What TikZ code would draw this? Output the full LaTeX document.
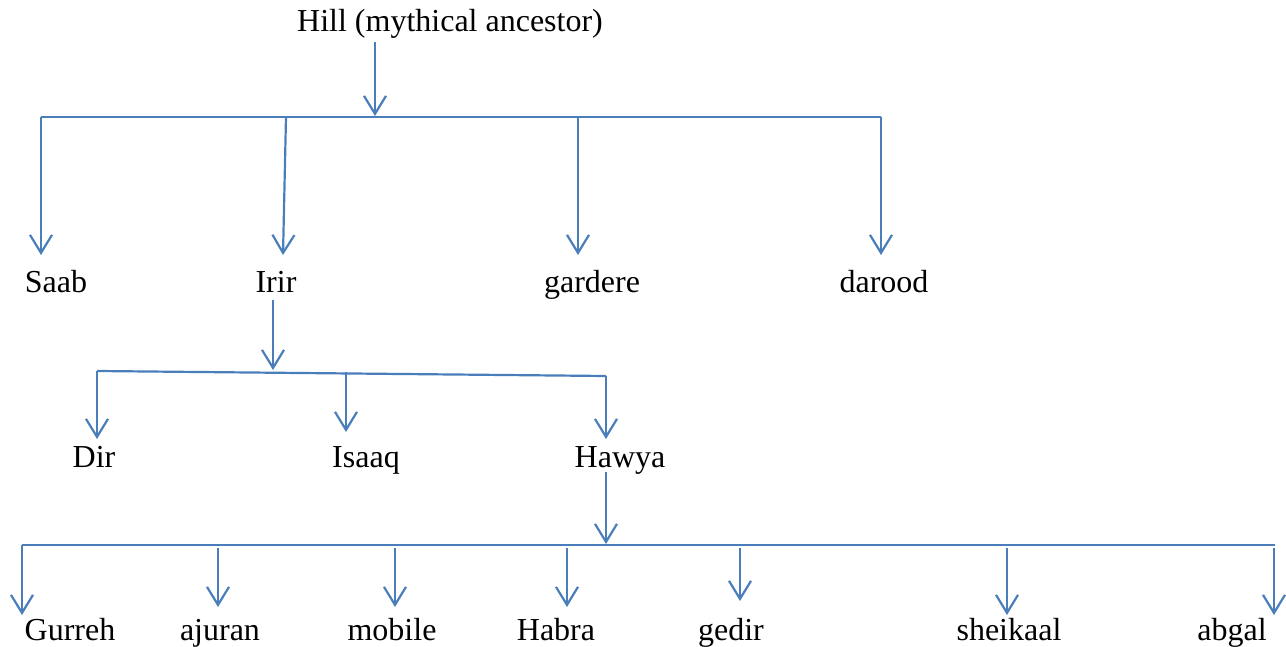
\documentclass[tikz,border=0pt]{standalone}
\usepackage{fontspec}
\setmainfont{Liberation Serif}
\usetikzlibrary{arrows.meta}
\definecolor{lineblue}{RGB}{74,126,187}
\tikzset{
  lbl/.style={anchor=base, inner sep=0pt, font=\fontsize{32}{38}\selectfont},
  conn/.style={draw=lineblue, line width=2.2pt},
  arr/.style={conn, -{Straight Barb[length=18pt,width=22pt,line width=2.2pt]}}
}
\begin{document}
\begin{tikzpicture}[x=1pt,y=-1pt]
\useasboundingbox (0,0) rectangle (1286,647);
% labels
\node[lbl] (hill) at (450,32) {Hill (mythical ancestor)};
\node[lbl] (saab) at (56,293) {Saab};
\node[lbl] (irir) at (276,293) {Irir};
\node[lbl] (gardere) at (592,293) {gardere};
\node[lbl] (darood) at (884,293) {darood};
\node[lbl] (dir) at (94,467) {Dir};
\node[lbl] (isaaq) at (366,467) {Isaaq};
\node[lbl] (hawya) at (620,467) {Hawya};
\node[lbl] (gurreh) at (70,640) {Gurreh};
\node[lbl] (ajuran) at (220,640) {ajuran};
\node[lbl] (mobile) at (392,640) {mobile};
\node[lbl] (habra) at (556,640) {Habra};
\node[lbl] (gedir) at (731,640) {gedir};
\node[lbl] (sheikaal) at (1009,640) {sheikaal};
\node[lbl] (abgal) at (1232,640) {abgal};
% level 1
\coordinate (h0) at (375,42);
\coordinate (h1) at (375,116);
\coordinate (b1L) at (41,117);
\coordinate (b1R) at (881,117);
\coordinate (b1irir) at (286,117);
\coordinate (b1gar) at (578,117);
\coordinate (tsaab) at (41,255);
\coordinate (tirir) at (283,255);
\coordinate (tgar) at (578,255);
\coordinate (tdar) at (881,255);
\draw[arr] (h0) -- (h1);
\draw[conn] (b1L) -- (b1R);
\draw[arr] (b1L) -- (tsaab);
\draw[arr] (b1irir) -- (tirir);
\draw[arr] (b1gar) -- (tgar);
\draw[arr] (b1R) -- (tdar);
% level 2
\coordinate (i0) at (273,300);
\coordinate (i1) at (273,370);
\coordinate (b2L) at (97,371);
\coordinate (b2R) at (606,376);
\coordinate (b2isa) at (346,372);
\coordinate (tdir) at (97,439);
\coordinate (tisa) at (346,432);
\coordinate (thaw) at (606,439);
\draw[arr] (i0) -- (i1);
\draw[conn] (b2L) -- (b2R);
\draw[arr] (b2L) -- (tdir);
\draw[arr] (b2isa) -- (tisa);
\draw[arr] (b2R) -- (thaw);
% level 3
\coordinate (w0) at (606,472);
\coordinate (w1) at (606,544);
\coordinate (b3L) at (22,545);
\coordinate (b3R) at (1275,545);
\draw[arr] (w0) -- (w1);
\draw[conn] (b3L) -- (b3R);
\draw[arr] (b3L) -- (22,615) coordinate (tgur);
\draw[arr] (218,548) coordinate (s1) -- (218,607) coordinate (taju);
\draw[arr] (395,548) coordinate (s2) -- (395,607) coordinate (tmob);
\draw[arr] (567,548) coordinate (s3) -- (567,607) coordinate (thab);
\draw[arr] (740,548) coordinate (s4) -- (740,601) coordinate (tged);
\draw[arr] (1007,548) coordinate (s5) -- (1007,615) coordinate (tshe);
\draw[arr] (1274,548) coordinate (s6) -- (1274,615) coordinate (tabg);
\end{tikzpicture}
\end{document}
